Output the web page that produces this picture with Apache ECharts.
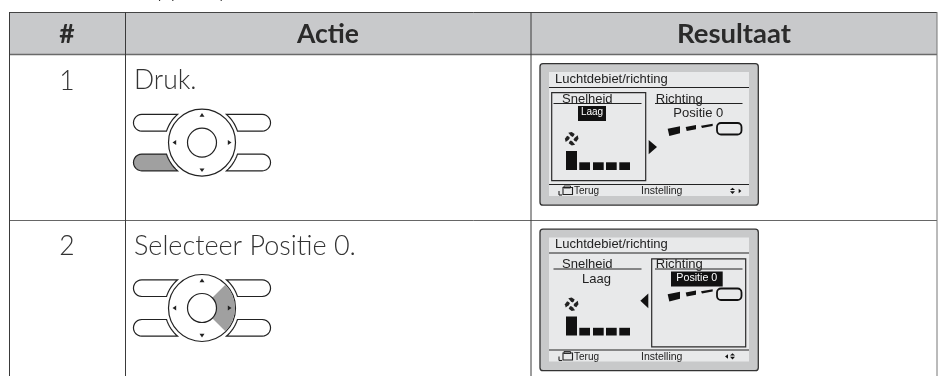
<!DOCTYPE html>
<html><head><meta charset="utf-8">
<style>html,body{margin:0;padding:0;background:#fff}#c{width:941px;height:376px}</style>
<script src="https://cdn.jsdelivr.net/npm/echarts@6/dist/echarts.min.js"></script>
</head><body><div id="c"></div>
<script>
const headers = ['#', 'Actie', 'Resultaat'];
const rowNumbers = ['1', '2'];
const rowActions = ['Druk.', 'Selecteer Positie 0.'];
const screenTitle = 'Luchtdebiet/richting';
const speedLabel = 'Snelheid';
const directionLabel = 'Richting';
const speedValue = 'Laag';
const directionValue = 'Positie 0';
const footerLabels = ['Terug', 'Instelling'];
const croppedLine = ['pp', 'y'];

const BODY = '#333333', HEAD = '#c8c9cb', PRESS = '#a0a0a0';
const UI = 'Lato', LCD = '"Liberation Sans"';
const els = [];
const Z = p => p.map(q => [q[0] / 3, q[1] / 3]);
function line(a, x1, y1, x2, y2, c, w) { a.push({ type: 'line', silent: true, shape: { x1, y1, x2, y2 }, style: { stroke: c, lineWidth: w } }); }
function rect(a, x, y, w, h, fill, stroke, lw, r) { a.push({ type: 'rect', silent: true, shape: { x, y, width: w, height: h, r: r || 0 }, style: { fill: fill || 'none', stroke: stroke || 'none', lineWidth: lw || 0 } }); }
function poly(a, pts, fill, stroke, lw) { a.push({ type: 'polygon', silent: true, shape: { points: pts }, style: { fill: fill || 'none', stroke: stroke || 'none', lineWidth: lw || 0 } }); }
function text(a, t, x, y, size, color, opts) {
  a.push({ type: 'text', silent: true, x, y, style: { text: t, x: 0, y: 0, fill: color, font: (opts && opts.w || 400) + ' ' + size + 'px ' + (opts && opts.f || UI), textAlign: opts && opts.a || 'left', textVerticalAlign: 'middle', verticalAlign: 'middle' } });
}

/* cropped text line above the table */
text(els, croppedLine[0], 157, -11, 24, BODY, { w: 300 });
text(els, croppedLine[1], 217, -11, 24, BODY, { w: 300 });

/* table */
rect(els, 9.5, 12.5, 927.5, 42, HEAD);
line(els, 9.5, 12.5, 937, 12.5, '#444', 1);
line(els, 9.5, 54.5, 937, 54.5, '#6a6a6a', 1.6);
line(els, 9.5, 220.5, 937, 220.5, '#666', 1);
[9.5, 125.5, 531].forEach(x => line(els, x, 12, x, 376, '#3a3a3a', 1));
line(els, 937, 12, 937, 376, '#777', 1);
text(els, headers[0], 67, 34.5, 26.5, '#2a2a2a', { a: 'center', w: 700 });
text(els, headers[1], 328, 34.5, 26.5, '#2a2a2a', { a: 'center', w: 700 });
text(els, headers[2], 734, 34.5, 27.5, '#2a2a2a', { a: 'center', w: 700 });
text(els, rowNumbers[0], 67, 81, 26.5, BODY, { a: 'center', w: 300 });
text(els, rowNumbers[1], 67, 246.5, 26.5, BODY, { a: 'center', w: 300 });
text(els, rowActions[0], 134, 80.5, 26.5, BODY, { w: 300 });
text(els, rowActions[1], 134, 246, 27, BODY, { w: 300 });

/* button pad */
function pad(cy, pressed) {
  const g = { type: 'group', x: 202, y: cy, silent: true, children: [] }, c = g.children;
  const R = 37.3, y1 = 11.5, y2 = 28.2, rr = (y2 - y1) / 2;
  [[-1, -1], [1, -1], [-1, 1], [1, 1]].forEach((s, i) => {
    const pts = [];
    const a1 = Math.asin(y1 / R), a2 = Math.asin(y2 / R);
    for (let k = 0; k <= 8; k++) { const a = a1 + (a2 - a1) * k / 8; pts.push([s[0] * R * Math.cos(a), s[1] * R * Math.sin(a)]); }
    const ex = 60.2;
    for (let k = 0; k <= 12; k++) { const a = Math.PI / 2 - Math.PI * k / 12; pts.push([s[0] * (ex + rr * Math.cos(a)), s[1] * ((y1 + y2) / 2 + rr * Math.sin(a))]); }
    poly(c, pts, pressed === 'button' && i === 2 ? PRESS : '#fff', '#222', 1.2);
  });
  c.push({ type: 'circle', shape: { cx: 0, cy: 0, r: 33.5 }, style: { fill: '#fff', stroke: '#222', lineWidth: 1.2 } });
  if (pressed === 'wedge') {
    c.push({ type: 'sector', shape: { cx: 0, cy: 0, r: 33, r0: 14.5, startAngle: -Math.PI / 4, endAngle: Math.PI / 4, clockwise: true }, style: { fill: PRESS } });
  }
  c.push({ type: 'circle', shape: { cx: 0, cy: 0, r: 14.5 }, style: { fill: '#fff', stroke: '#222', lineWidth: 1.2 } });
  poly(c, [[0, -29.5], [-2.5, -25.8], [2.5, -25.8]], '#222');
  poly(c, [[0, 29.5], [-2.5, 25.8], [2.5, 25.8]], '#222');
  poly(c, [[-29.5, 0], [-25.8, -2.5], [-25.8, 2.5]], '#222');
  poly(c, [[29.5, 0], [25.8, -2.5], [25.8, 2.5]], '#222');
  els.push(g);
}
pad(142.6, 'button');
pad(308, 'wedge');

/* display panel */
function panel(ox, oy, sel) {
  const g = { type: 'group', x: ox, y: oy, silent: true, children: [] }, c = g.children;
  const s = sel === 'speed';
  rect(c, 40, 13.7, 218.3, 141.5, '#c8c9ca', '#333', 1.3, 3);
  rect(c, 49, 22, 200, 124, '#e8e9ea');
  text(c, screenTitle, 55, 29, 13, '#222', { f: LCD });
  line(c, 49, 37.5, 249, 37.5, '#222', 1);
  line(c, 49, 134.5, 249, 134.5, '#222', 1);
  rect(c, s ? 51.7 : 151.7, s ? 42.7 : 43.3, 94, 88, null, '#2a2a2a', 1.2);
  text(c, speedLabel, 87.3, 49, 13, '#222', { f: LCD, a: 'center' });
  line(c, 53.5, 53.5, 141.5, 53.5, '#222', 1);
  text(c, directionLabel, 179.3, 49, 13, '#222', { f: LCD, a: 'center' });
  line(c, 155, 53.5, 242.5, 53.5, '#222', 1);
  if (s) {
    rect(c, 78, 56, 28, 15, '#111');
    text(c, speedValue, 92, 62.5, 10, '#fff', { f: LCD, a: 'center' });
    text(c, directionValue, 198.3, 63, 13, '#222', { f: LCD, a: 'center' });
    poly(c, Z([[446, 270], [471, 291], [446, 313]]), '#111');
  } else {
    text(c, speedValue, 96.5, 63.5, 13, '#222', { f: LCD, a: 'center' });
    rect(c, 171, 56, 51.7, 15, '#111');
    text(c, directionValue, 196.8, 62.5, 10.7, '#fff', { f: LCD, a: 'center' });
    poly(c, Z([[445, 234], [421, 256], [445, 278]]), '#111');
  }
  /* vane */
  poly(c, Z([[503, 236], [540, 229], [540, 250], [508, 258]]), '#111');
  poly(c, Z([[557, 231], [588, 225], [588, 238], [560, 243]]), '#111');
  poly(c, Z([[603, 227], [638, 221], [638, 228], [606, 234]]), '#111');
  rect(c, 217, 73, 24.5, 11.5, '#e8e9ea', '#111', 1.8, 4);
  /* fan */
  const fc = [71.7, 88.7];
  [0, 90, 180, 270].forEach(d => {
    const t = d * Math.PI / 180, cs = Math.cos(t), sn = Math.sin(t);
    const pts = [[0.8, -1.8], [-1, -3], [-3.4, -6], [0, -6.8], [3, -4.6], [2, -2.6]].map(p => [fc[0] + p[0] * cs - p[1] * sn, fc[1] + p[0] * sn + p[1] * cs]);
    poly(c, pts, '#222');
  });
  /* level bars */
  rect(c, 66, 101, 11, 19, '#111');
  [79.3, 93, 106, 119.3].forEach(x => rect(c, x, 112.3, 10.7, 7.7, '#111'));
  /* footer */
  text(c, footerLabels[0], 74, 141.5, 10, '#222', { f: LCD });
  text(c, footerLabels[1], 141, 141.5, 10.5, '#222', { f: LCD });
  rect(c, 63, 137.5, 9.5, 7, null, '#222', 1.1);
  rect(c, 64, 136, 6.5, 2, null, '#222', .9);
  line(c, 59, 141, 59, 145, '#222', 1.1);
  line(c, 59, 145, 62, 145, '#222', 1.1);
  poly(c, Z([[690, 420], [705, 420], [697.5, 413]]), '#111');
  poly(c, Z([[690, 424], [705, 424], [697.5, 432]]), '#111');
  if (s) poly(c, Z([[716, 416], [724, 423], [716, 430]]), '#111');
  else poly(c, Z([[684, 416], [675, 423], [684, 430]]), '#111');
  els.push(g);
}
panel(500, 50, 'speed');
panel(500, 215.5, 'direction');

const chart = echarts.init(document.getElementById('c'), null, { renderer: 'canvas' });
chart.setOption({ backgroundColor: '#fff', animation: false, graphic: { elements: els } });
</script></body></html>
